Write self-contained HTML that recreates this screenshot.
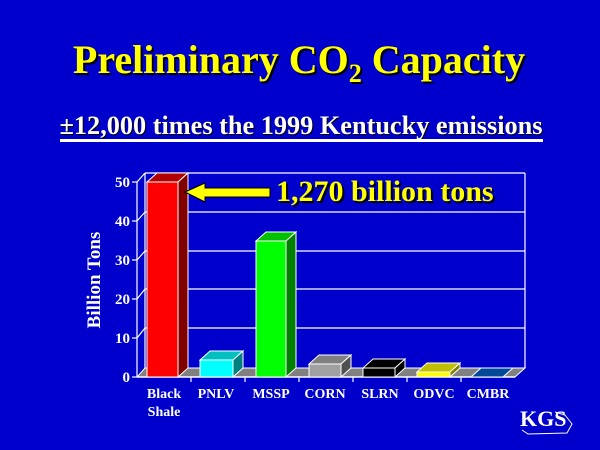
<!DOCTYPE html>
<html><head><style>
html,body{margin:0;padding:0;background:#0000cc;}
svg{display:block;}
text{font-family:"Liberation Serif",serif;font-weight:bold;}
</style></head><body>
<svg width="600" height="450" viewBox="0 0 600 450" xmlns="http://www.w3.org/2000/svg">
<rect width="600" height="450" fill="#0000cc"/>
<g font-size="40">
<text x="301" y="75" text-anchor="middle" fill="#000">Preliminary CO<tspan font-size="26" dy="9">2</tspan><tspan dy="-9"> Capacity</tspan></text>
<text x="299" y="73" text-anchor="middle" fill="#ffff00">Preliminary CO<tspan font-size="26" dy="9">2</tspan><tspan dy="-9"> Capacity</tspan></text>
</g>
<g font-size="26">
<text x="302" y="135" text-anchor="middle" fill="#000" textLength="483" lengthAdjust="spacingAndGlyphs">±12,000 times the 1999 Kentucky emissions</text>
<text x="301" y="134" text-anchor="middle" fill="#fff" textLength="483" lengthAdjust="spacingAndGlyphs">±12,000 times the 1999 Kentucky emissions</text>
</g>
<rect x="60" y="139" width="483" height="3" fill="#fff"/>
<g stroke="#fff" stroke-width="1.2" fill="none">
<line x1="145" y1="173" x2="525" y2="173"/>
<line x1="145" y1="212" x2="525" y2="212"/>
<line x1="145" y1="251" x2="525" y2="251"/>
<line x1="145" y1="289" x2="525" y2="289"/>
<line x1="145" y1="328" x2="525" y2="328"/>
<line x1="525" y1="173" x2="525" y2="368"/>
<line x1="145" y1="173" x2="145" y2="368"/>
<line x1="137" y1="182" x2="137" y2="377"/>
<line x1="137" y1="182" x2="145" y2="173"/>
<line x1="137" y1="221" x2="145" y2="212"/>
<line x1="137" y1="260" x2="145" y2="251"/>
<line x1="137" y1="299" x2="145" y2="289"/>
<line x1="137" y1="338" x2="145" y2="328"/>
</g>
<polygon points="137,377 515,377 525,368 145,368" fill="#808080" stroke="#fff" stroke-width="1"/>
<line x1="137" y1="377" x2="515" y2="377" stroke="#fff" stroke-width="1.5"/>
<g stroke="#fff" stroke-width="1.2">
<line x1="132" y1="182" x2="137" y2="182"/><line x1="132" y1="221" x2="137" y2="221"/>
<line x1="132" y1="260" x2="137" y2="260"/><line x1="132" y1="299" x2="137" y2="299"/>
<line x1="132" y1="338" x2="137" y2="338"/><line x1="132" y1="377" x2="137" y2="377"/>
<line x1="191" y1="377" x2="191" y2="382"/><line x1="245" y1="377" x2="245" y2="382"/>
<line x1="299" y1="377" x2="299" y2="382"/><line x1="353" y1="377" x2="353" y2="382"/>
<line x1="407" y1="377" x2="407" y2="382"/><line x1="461" y1="377" x2="461" y2="382"/>
</g>
<g font-size="15" fill="#fff" text-anchor="end">
<text x="130" y="187">50</text><text x="130" y="226">40</text><text x="130" y="265">30</text>
<text x="130" y="304">20</text><text x="130" y="343">10</text><text x="130" y="382">0</text>
</g>
<text transform="translate(100,280) rotate(-90)" font-size="19" fill="#fff" text-anchor="middle">Billion Tons</text>
<g stroke="#fff" stroke-width="1">
<polygon points="147,182 178,182 188,173 157,173" fill="#b00000"/>
<polygon points="178,182 188,173 188,368 178,377" fill="#800000"/>
<rect x="147" y="182" width="31" height="195" fill="#ff0000"/>
<polygon points="200,360 233,360 243,351 210,351" fill="#00c0c0"/>
<polygon points="233,360 243,351 243,368 233,377" fill="#008080"/>
<rect x="200" y="360" width="33" height="17" fill="#00ffff"/>
<polygon points="256,241 286,241 296,232 266,232" fill="#00c000"/>
<polygon points="286,241 296,232 296,368 286,377" fill="#008000"/>
<rect x="256" y="241" width="30" height="136" fill="#00ff00"/>
<polygon points="309,364 341,364 351,355 319,355" fill="#808080"/>
<polygon points="341,364 351,355 351,368 341,377" fill="#505050"/>
<rect x="309" y="364" width="32" height="13" fill="#a0a0a0"/>
<polygon points="363,368 395,368 405,359 373,359" fill="#000"/>
<polygon points="395,368 405,359 405,368 395,377" fill="#000"/>
<rect x="363" y="368" width="32" height="9" fill="#000"/>
<polygon points="417,372 450,372 460,363 427,363" fill="#c0c000"/>
<polygon points="450,372 460,363 460,368 450,377" fill="#808000"/>
<rect x="417" y="372" width="33" height="5" fill="#ffff00"/>
<polygon points="471,377 503,377 513,368 481,368" fill="#004898"/>
</g>
<g font-size="14" fill="#fff" text-anchor="middle">
<text x="164" y="398">Black</text><text x="164" y="416">Shale</text>
<text x="216" y="398">PNLV</text><text x="271" y="398">MSSP</text>
<text x="325" y="398">CORN</text><text x="380" y="398">SLRN</text>
<text x="434" y="398">ODVC</text><text x="488" y="398">CMBR</text>
</g>
<polygon points="185,192 205,183 205,188 270,188 270,197 205,197 205,202" fill="#ffff00" stroke="#000" stroke-width="1"/>
<text x="278" y="203" font-size="30" fill="#000">1,270 billion tons</text>
<text x="276" y="201" font-size="30" fill="#ffff00">1,270 billion tons</text>
<text x="520" y="426" font-size="22" fill="#fff" font-weight="normal">KGS</text>
<path d="M555 412 L565 415 L572 424 L567 433 L528 434 L522 430" fill="none" stroke="#fff" stroke-width="1"/>
</svg>
</body></html>
